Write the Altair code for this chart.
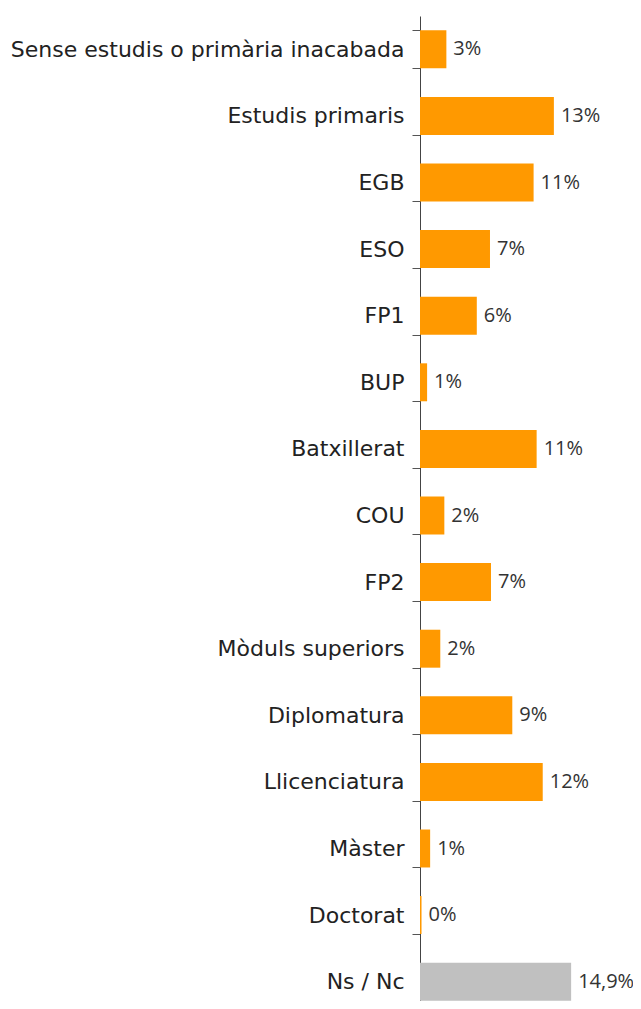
import altair as alt
import pandas as pd

categories = ["Sense estudis o primària inacabada", "Estudis primaris", "EGB", "ESO", "FP1",
              "BUP", "Batxillerat", "COU", "FP2", "Mòduls superiors", "Diplomatura",
              "Llicenciatura", "Màster", "Doctorat", "Ns / Nc"]
values = [2.6, 13.2, 11.2, 6.9, 5.6, 0.7, 11.5, 2.4, 7.0, 2.0, 9.1, 12.1, 1.0, 0.15, 14.9]
labels = ["3%", "13%", "11%", "7%", "6%", "1%", "11%", "2%", "7%", "2%", "9%", "12%", "1%", "0%", "14,9%"]
groups = ["a"] * 14 + ["b"]

df = pd.DataFrame({"cat": categories, "val": values, "lab": labels, "grp": groups})

FONT = "DejaVu Sans"
VFONT = "Open Sans"

y = alt.Y("cat:N", sort=categories,
          scale=alt.Scale(range=[0, 999], paddingInner=0.43, paddingOuter=0.215),
          axis=alt.Axis(title=None, labelFont=FONT, labelFontSize=22, labelColor="#222222",
                        labelPadding=8, labelLimit=420, tickBand="extent", tickSize=8,
                        tickColor="#555555", domainColor="#444444", ticks=True, grid=False))
x = alt.X("val:Q", scale=alt.Scale(domain=[0, 21], nice=False), axis=None)

bars = alt.Chart(df).mark_bar().encode(
    y=y, x=x,
    color=alt.Color("grp:N", scale=alt.Scale(domain=["a", "b"], range=["#FF9900", "#C0C0C0"]), legend=None),
)
text = alt.Chart(df).mark_text(align="left", baseline="middle", dx=7, font=VFONT, fontSize=20,
                               color="#333333").encode(y=alt.Y("cat:N", sort=categories), x=x, text="lab:N")

chart = (bars + text).properties(
    width=213, height=985,
    autosize=alt.AutoSizeParams(type="none"),
    padding={"left": 412, "top": 8, "right": 0, "bottom": 0},
).configure_view(stroke=None)

chart.save("out.html", embed_options={"renderer": "svg", "actions": False})
